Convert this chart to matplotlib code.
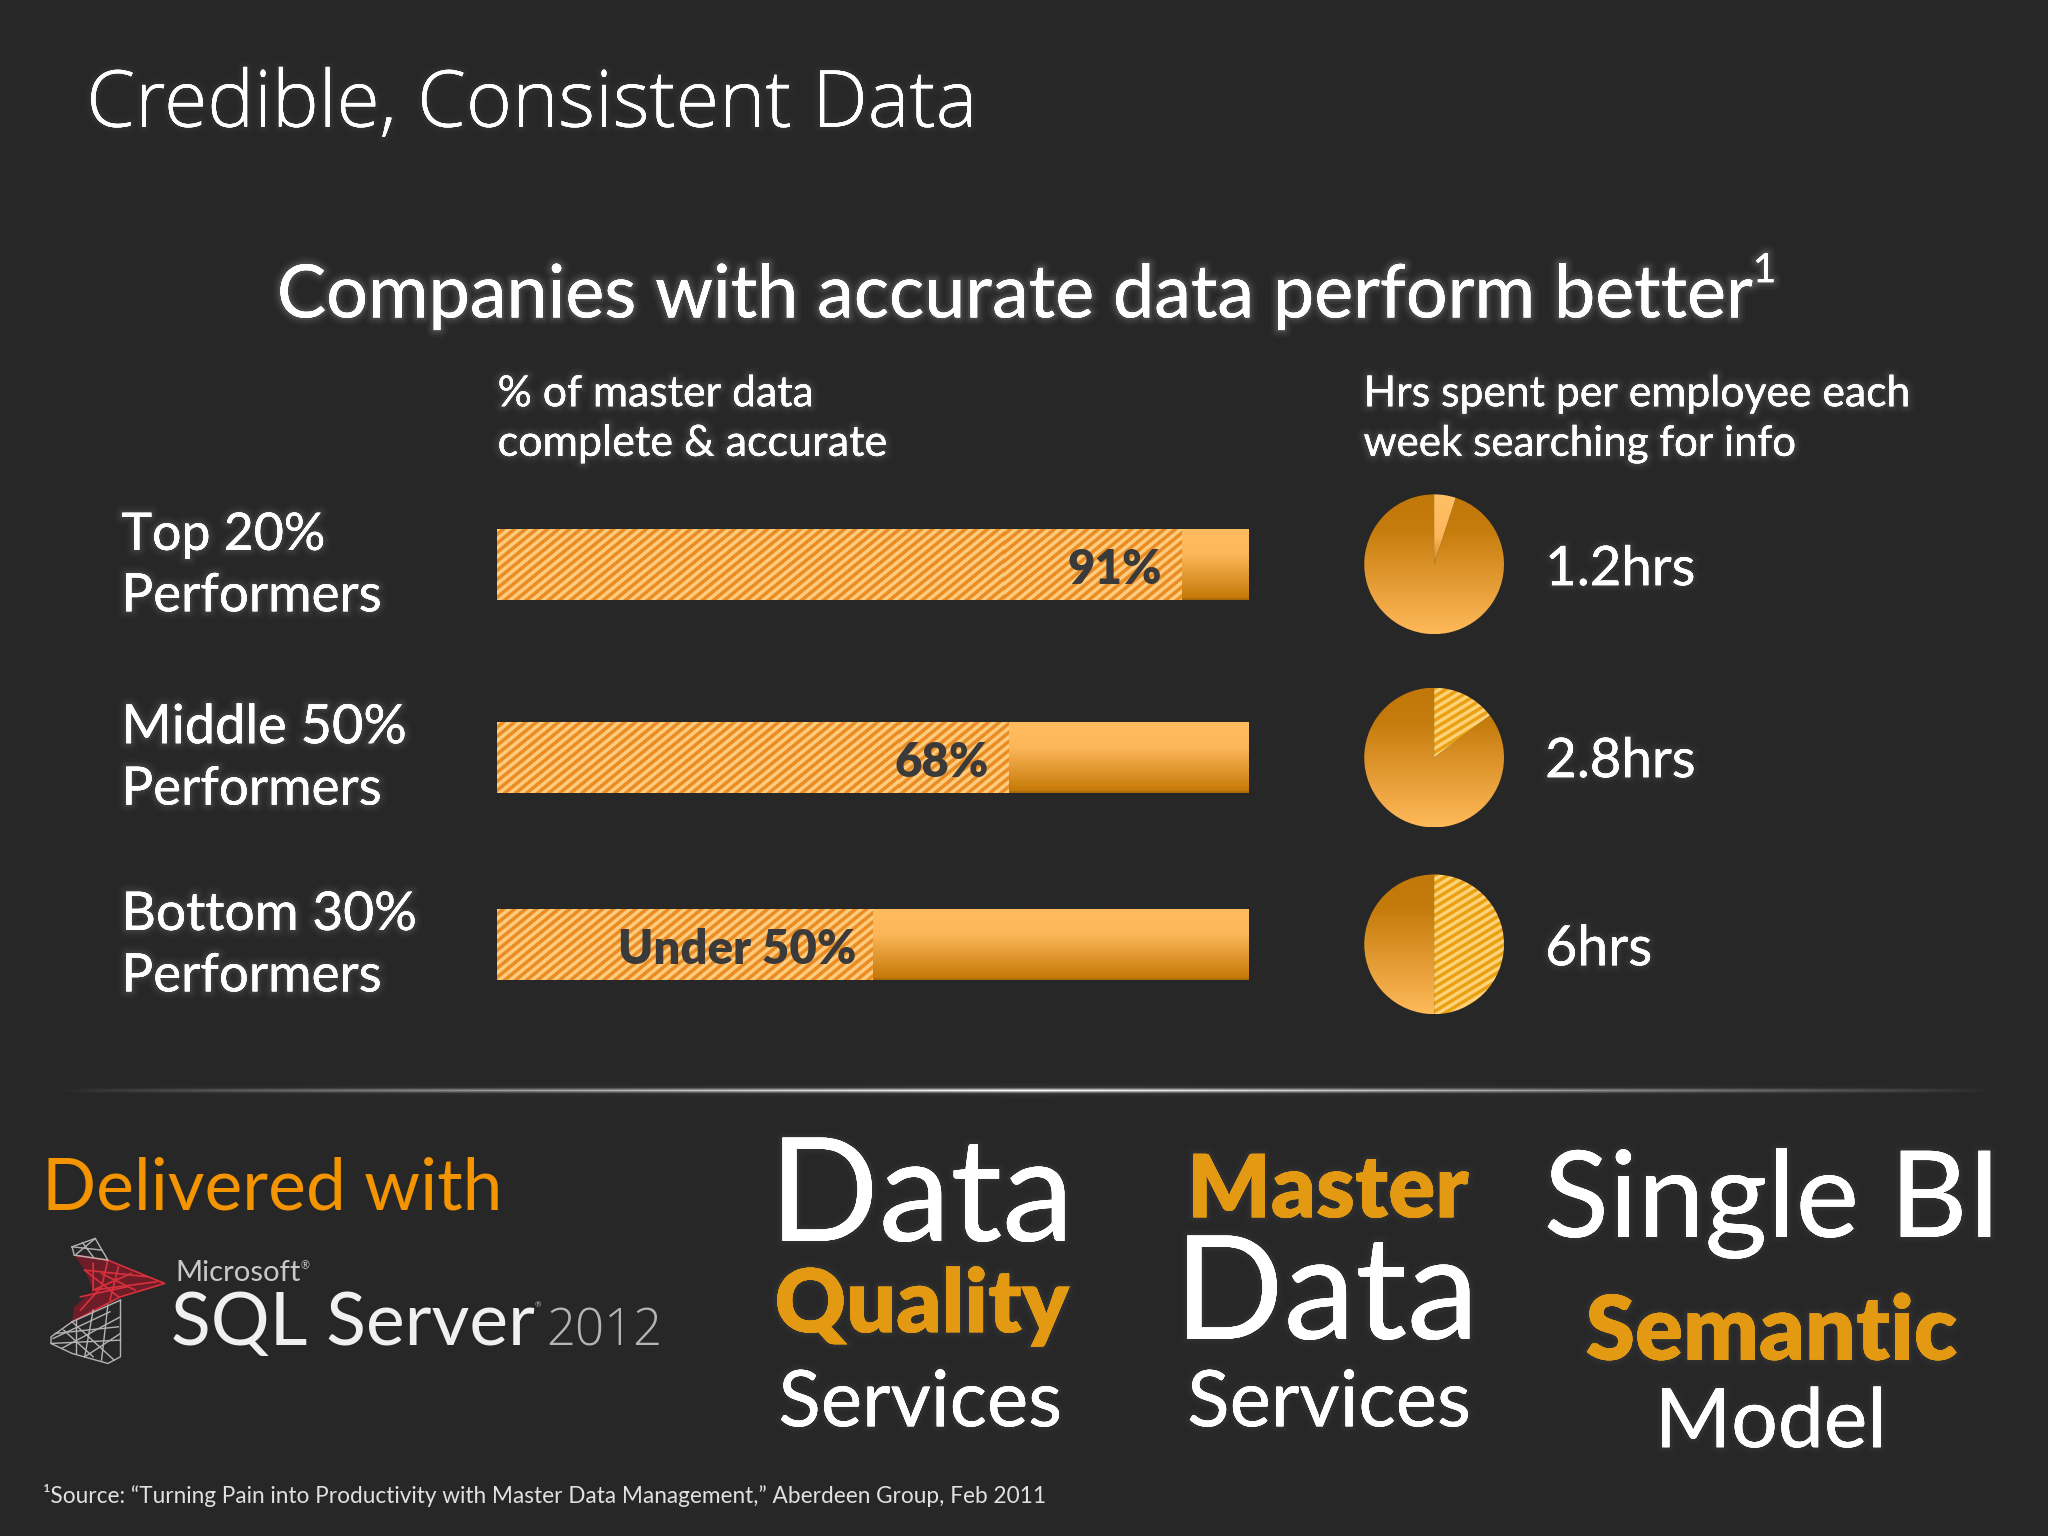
import numpy as np
import matplotlib
matplotlib.use('Agg')
import matplotlib.pyplot as plt
import matplotlib.patheffects as pe
from matplotlib.colors import LinearSegmentedColormap, to_rgb

groups = ['Top 20%', 'Middle 50%', 'Bottom 30%']
complete_pct = [91, 68, 50]
pct_labels = ['91%', '68%', 'Under 50%']
hours_labels = ['1.2hrs', '2.8hrs', '6hrs']
slice_shares = [0.05, 0.147, 0.5]

BG = '#272727'
FONT = 'Lato'
THIN_FONT = 'Open Sans'
ORANGE = '#E39A12'

# layout is read in a 1568x1176 view of the slide
W, H = 1568, 1176
row_y = [432, 580, 723]
bar_h = 54
pie_x = 1098
pie_r = 53.5

fig = plt.figure(figsize=(20.48, 15.36), dpi=100, facecolor=BG)
renderer = fig.canvas.get_renderer()

page = fig.add_axes([0, 0, 1, 1], zorder=5)
page.set_xlim(0, W)
page.set_ylim(H, 0)
page.axis('off')
page.patch.set_alpha(0)


def glow(strength=1.0):
    return [pe.withStroke(linewidth=11, foreground='white', alpha=0.03 * strength),
            pe.withStroke(linewidth=7, foreground='white', alpha=0.05 * strength),
            pe.withStroke(linewidth=3.5, foreground='white', alpha=0.08 * strength),
            pe.Normal()]


def fit_text(s, x0, x1, y, color='white', weight='normal', family=FONT, halo=0.0):
    # scale the font until the string spans x0..x1
    t = page.text(x0, y, s, color=color, fontsize=30, fontweight=weight,
                  family=family, va='baseline', ha='left')
    w = t.get_window_extent(renderer).width
    t.set_fontsize(30 * (x1 - x0) * (2048 / W) / w)
    if halo:
        t.set_path_effects(glow(halo))
    return t


def vgrad(stops):
    return LinearSegmentedColormap.from_list('g', stops)


def stripes(w, h, period_x, period_y, dark, light):
    yy, xx = np.mgrid[0:h, 0:w]
    phase = (xx / period_x + yy / period_y) % 1.0
    mask = np.clip((np.abs(phase - 0.5) - 0.25) * 6 + 0.5, 0, 1)[..., None]
    return np.array(to_rgb(dark)) * (1 - mask) + np.array(to_rgb(light)) * mask


# bars
bar_cmap = vgrad([(0, '#FFBC5E'), (0.35, '#FDB75A'), (0.97, '#C67A08'), (1, '#A86A08')])
ax_bar = fig.add_axes([380.5 / W, 0, 575.5 / W, 1])
ax_bar.patch.set_alpha(0)
for y, pct in zip(row_y, complete_pct):
    track = ax_bar.barh(y, 100, height=bar_h, facecolor='none', edgecolor='none')[0]
    im = ax_bar.imshow(np.linspace(0, 1, 70)[:, None], cmap=bar_cmap, aspect='auto',
                       extent=(0, 100, y + bar_h / 2, y - bar_h / 2))
    im.set_clip_path(track)
    done = ax_bar.barh(y, pct, height=bar_h, facecolor='none', edgecolor='none')[0]
    tex = stripes(752, 71, 11, 9, '#E98C24', '#FFCB7C')
    im2 = ax_bar.imshow(tex, aspect='auto', interpolation='nearest',
                        extent=(0, 100, y + bar_h / 2, y - bar_h / 2))
    im2.set_clip_path(done)
ax_bar.set_xlim(0, 100)
ax_bar.set_ylim(H, 0)
ax_bar.axis('off')

# pies
rest_cmap = vgrad([(0, '#C27808'), (0.25, '#C67C0C'), (1, '#FFB95A')])
slice_cmap = vgrad([(0, '#FFC066'), (0.3, '#FDB75A'), (0.55, '#C67C0C'), (1, '#C67C0C')])
for i, (cy, share) in enumerate(zip(row_y, slice_shares)):
    ax = fig.add_axes([(pie_x - pie_r) / W, 1 - (cy + pie_r) / H, 2 * pie_r / W, 2 * pie_r / H])
    ax.patch.set_alpha(0)
    wedges, _ = ax.pie([share, 1 - share], startangle=90, counterclock=False, radius=1,
                       wedgeprops=dict(facecolor='none', edgecolor='none'))
    ramp = np.linspace(0, 1, 140)[:, None]
    im = ax.imshow(ramp, cmap=rest_cmap, extent=(-1, 1, -1, 1), aspect='equal')
    im.set_clip_path(wedges[1])
    if i == 0:
        im = ax.imshow(ramp, cmap=slice_cmap, extent=(-1, 1, -1, 1), aspect='equal')
    else:
        tex = stripes(140, 140, 13, 8, '#E8A010', '#FFD27A')
        im = ax.imshow(tex, extent=(-1, 1, -1, 1), aspect='equal', interpolation='nearest')
    im.set_clip_path(wedges[0])
    ax.set_xlim(-1, 1)
    ax.set_ylim(-1, 1)
    ax.axis('off')

# divider
rule = np.zeros((9, 400, 4))
fade = 1 - np.abs(np.linspace(-1, 1, 400))
rule[..., :3] = 1
rule[..., 3] = fade ** 0.8 * np.array([0.02, 0.04, 0.1, 0.5, 1, 0.5, 0.1, 0.04, 0.02])[:, None]
page.imshow(rule, extent=(45, 1525, 840, 830.5), aspect='auto', interpolation='bilinear')
page.set_xlim(0, W)
page.set_ylim(H, 0)

# headings
fit_text('Credible, Consistent Data', 66, 748, 97, weight='light', family=THIN_FONT, halo=0.3)
fit_text('Companies with accurate data perform better', 212, 1341, 243, halo=1)
fit_text('1', 1342, 1360, 216, halo=1)

fit_text('% of master data', 381, 623, 311, halo=0.6)
fit_text('complete & accurate', 381, 679, 349, halo=0.6)
fit_text('Hrs spent per employee each', 1044, 1462, 311, halo=0.6)
fit_text('week searching for info', 1044, 1375, 349, halo=0.6)

# row labels
label_right = [249, 311, 319]
label_base = [421, 569, 712]
for name, x1, yb in zip(groups, label_right, label_base):
    fit_text(name, 93, x1, yb, halo=0.6)
    fit_text('Performers', 93, 292, yb + 47, halo=0.6)

pct_span = [(817, 889), (685, 757), (473, 655)]
pct_base = [447, 595, 738]
for s, (x0, x1), yb in zip(pct_labels, pct_span, pct_base):
    fit_text(s, x0, x1, yb, color='#3A3A3A', weight='heavy')

hours_right = [1298, 1298, 1265]
hours_base = [448, 595, 739]
for s, x1, yb in zip(hours_labels, hours_right, hours_base):
    fit_text(s, 1183, x1, yb, halo=0.4)

# lower block
fit_text('Delivered with', 32, 384, 926, color='#F39400')
fit_text('Microsoft', 134, 230, 981, color='#C8C8C8')
fit_text('®', 230, 237, 972, color='#C8C8C8')
fit_text('SQL Server', 131, 409, 1030, color='#F0F0F0')
fit_text('®', 409, 414, 1001, color='#C0C0C0')
fit_text('2012', 418, 507, 1030, color='#B4B4B4', weight='light', family=THIN_FONT)

fit_text('Data', 589, 822, 950, halo=0.3)
fit_text('Quality', 593, 818, 1020, color=ORANGE, weight='heavy', halo=0.3)
fit_text('Services', 596, 813, 1092, halo=0.3)
fit_text('Master', 909, 1124, 932, color=ORANGE, weight='heavy', halo=0.3)
fit_text('Data', 899, 1132, 1025, halo=0.3)
fit_text('Services', 909, 1126, 1092, halo=0.3)
fit_text('Single BI', 1182, 1531, 947, halo=0.3)
fit_text('Semantic', 1214, 1498, 1041, color=ORANGE, weight='heavy', halo=0.3)
fit_text('Model', 1267, 1444, 1108, halo=0.3)

fit_text('¹Source: “Turning Pain into Productivity with Master Data Management,” Aberdeen Group, Feb 2011',
         33, 801, 1151, color='#E0E0E0')


def lg(points):
    p = np.array(points, float)
    return (30 + p[:, 0] / 2.376) / 1.306, (1130 + p[:, 1] / 3) / 1.306


red_fill = [(105, 375), (185, 390), (320, 460), (215, 500), (100, 575), (105, 530), (150, 480), (130, 420)]
x, y = lg(red_fill)
page.fill(x, y, color='#7A1C28', alpha=0.85, lw=0)
wire_red = [[(105, 375), (185, 390), (320, 460), (215, 500), (100, 575)],
            [(130, 420), (210, 500)], [(150, 400), (150, 480), (240, 430)],
            [(185, 390), (170, 470), (120, 540)], [(130, 420), (280, 440)],
            [(150, 480), (300, 455)], [(170, 430), (250, 480)], [(210, 410), (190, 510)],
            [(120, 500), (230, 470)]]
wire_gray = [[(100, 350), (155, 325), (185, 390), (105, 375), (100, 350)],
             [(125, 338), (150, 380)], [(155, 325), (110, 372)], [(100, 350), (170, 360)],
             [(100, 575), (50, 620), (50, 640), (100, 670), (185, 700), (215, 680), (215, 510)],
             [(215, 510), (100, 575)], [(150, 540), (130, 680)], [(185, 525), (170, 690)],
             [(60, 610), (210, 590)], [(50, 640), (215, 630)], [(100, 575), (200, 690)],
             [(215, 560), (75, 655)], [(110, 570), (110, 670)], [(55, 625), (190, 545)],
             [(80, 600), (150, 680)], [(215, 610), (130, 680)]]
for line in wire_red:
    x, y = lg(line)
    page.plot(x, y, color='#D8303C', lw=1.2)
for line in wire_gray:
    x, y = lg(line)
    page.plot(x, y, color='#B4B4B4', lw=1.0)
page.set_xlim(0, W)
page.set_ylim(H, 0)

fig.savefig('out.png', dpi=100, facecolor=BG)
